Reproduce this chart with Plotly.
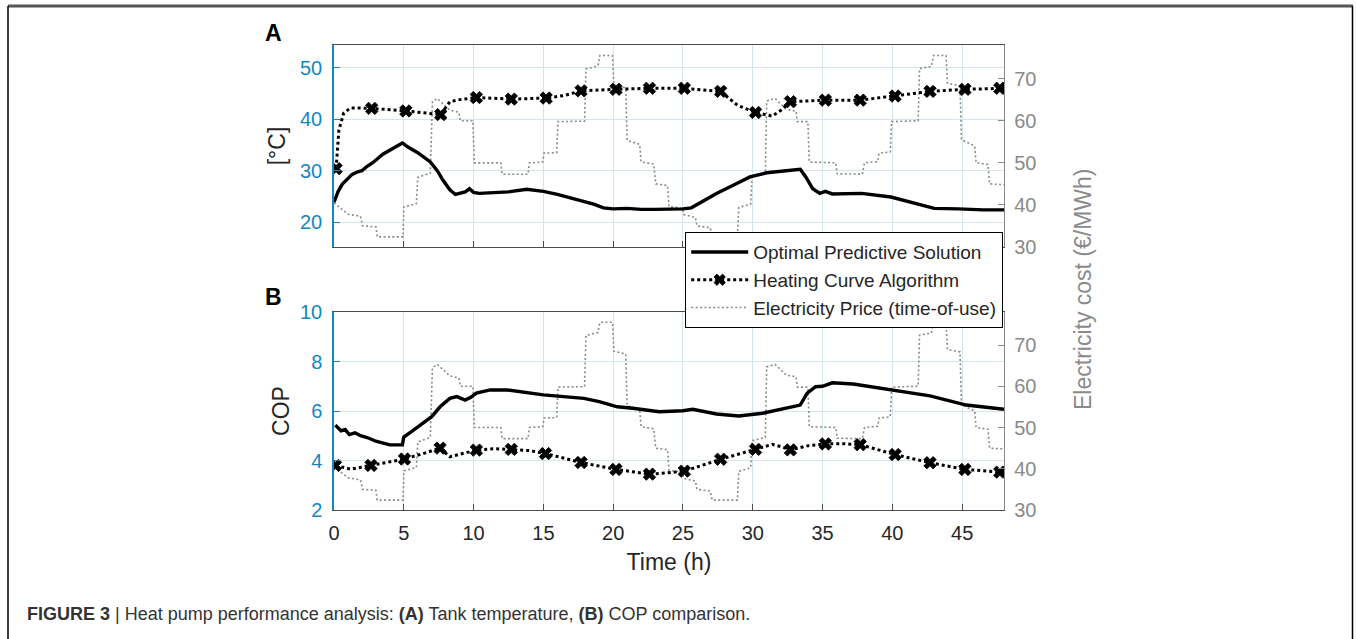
import plotly.graph_objects as go

# ---------------- data ----------------
# Optimal predictive solution - tank temperature (°C)
opt_temp_t = [0, 0.3, 0.6, 0.9, 1.3, 1.7, 2.0, 2.3, 2.8, 3.5, 4.2, 4.9, 5.3, 6.0, 6.9, 7.4, 7.8, 8.3, 8.7,
              9.1, 9.4, 9.7, 10.0, 10.4, 11.5, 12.5, 13.8, 15.0, 16.0, 16.8, 17.8, 18.6, 19.3, 20.0, 21.0,
              22.0, 23.0, 24.0, 25.0, 25.6, 26.2, 27.4, 28.6, 29.8, 31.0, 32.4, 33.4, 33.8, 34.3, 34.8, 35.2,
              35.7, 37.8, 39.9, 41.6, 43.0, 44.7, 46.5, 48.0]
opt_temp_v = [23.9, 26.0, 27.4, 28.3, 29.3, 29.8, 30.0, 30.7, 31.6, 33.2, 34.3, 35.4, 34.6, 33.5, 31.7, 30.0,
              28.2, 26.3, 25.4, 25.6, 25.9, 26.5, 25.8, 25.6, 25.7, 25.9, 26.4, 26.0, 25.4, 24.8, 24.1, 23.5,
              22.8, 22.6, 22.7, 22.5, 22.5, 22.5, 22.6, 22.8, 23.7, 25.6, 27.2, 28.8, 29.6, 30.0, 30.3, 28.8,
              26.5, 25.6, 26.0, 25.5, 25.6, 24.9, 23.7, 22.7, 22.6, 22.4, 22.4]

# Heating curve algorithm - tank temperature (°C); 1 = marker drawn at that point
hc_temp_t = [0.15, 0.35, 0.7, 1.2, 2.7, 5.15, 7.65, 8.3, 9.0, 10.2, 12.7, 15.2, 16.5, 17.7, 20.2, 22.6,
             25.1, 27.7, 28.9, 30.2, 31.4, 32.0, 32.7, 35.2, 37.7, 40.2, 42.7, 45.2, 47.7, 48.0]
hc_temp_v = [30.4, 37.9, 41.2, 42.2, 42.1, 41.6, 40.9, 43.4, 43.8, 44.2, 43.9, 44.1, 44.6, 45.5, 45.8, 46.0,
             46.0, 45.4, 42.7, 41.3, 40.6, 41.7, 43.4, 43.7, 43.7, 44.5, 45.4, 45.8, 46.0, 46.0]
hc_temp_mark = [1, 0, 0, 0, 1, 1, 1, 0, 0, 1, 1, 1, 0, 1, 1, 1,
                1, 1, 0, 1, 0, 0, 1, 1, 1, 1, 1, 1, 1, 0]

# Optimal predictive solution - COP
opt_cop_t = [0.1, 0.5, 0.8, 1.1, 1.5, 1.9, 2.2, 2.5, 3.0, 3.6, 4.0, 4.9, 5.0, 5.5, 6.4, 7.0, 7.6, 8.3, 8.8,
             9.4, 9.8, 10.2, 11.2, 12.4, 15.0, 17.9, 19.0, 20.3, 21.4, 22.6, 23.3, 25.0, 25.7, 27.4, 29.0,
             30.7, 32.4, 33.4, 33.9, 34.5, 35.0, 35.7, 37.2, 40.0, 42.7, 45.3, 48.0]
opt_cop_v = [5.43, 5.2, 5.25, 5.05, 5.12, 5.0, 4.95, 4.9, 4.78, 4.68, 4.63, 4.63, 4.95, 5.15, 5.5, 5.77,
             6.17, 6.51, 6.58, 6.44, 6.55, 6.72, 6.85, 6.85, 6.65, 6.51, 6.38, 6.17, 6.11, 6.01, 5.97, 6.01,
             6.07, 5.88, 5.80, 5.91, 6.11, 6.24, 6.72, 6.98, 7.0, 7.14, 7.09, 6.85, 6.61, 6.24, 6.07]

# Heating curve algorithm - COP
hc_cop_t = [0.1, 1.2, 2.65, 5.05, 6.5, 7.6, 8.3, 9.25, 10.2, 11.5, 12.7, 14.0, 15.15, 17.7, 20.2, 21.5,
            22.6, 23.8, 25.1, 27.7, 30.2, 31.4, 32.1, 32.7, 34.0, 35.2, 36.5, 37.7, 40.2, 42.7, 45.2, 47.7, 48.0]
hc_cop_v = [3.8, 3.65, 3.8, 4.06, 4.3, 4.5, 4.15, 4.29, 4.42, 4.48, 4.45, 4.4, 4.28, 3.92, 3.64, 3.55,
            3.45, 3.5, 3.57, 4.05, 4.45, 4.65, 4.55, 4.43, 4.6, 4.67, 4.68, 4.64, 4.24, 3.91, 3.64, 3.53, 3.52]
hc_cop_mark = [1, 0, 1, 1, 0, 1, 0, 0, 1, 0, 1, 0, 1, 1, 1, 0,
               1, 0, 1, 1, 1, 0, 0, 1, 0, 1, 0, 1, 1, 1, 1, 1, 0]

# Electricity price, time-of-use (€/MWh)
price_t = [0.0, 1.0, 1.9, 2.05, 3.0, 3.1, 4.95, 5.0, 5.9, 6.0, 6.9, 7.05, 7.4, 8.3, 8.95, 9.05, 9.95,
           10.05, 11.95, 12.05, 13.9, 14.0, 14.95, 15.05, 15.95, 16.05, 17.95, 18.05, 18.9, 19.05, 19.95,
           20.05, 20.9, 21.0, 21.9, 22.0, 22.9, 23.05, 23.9, 24.0, 24.95, 25.05, 25.9, 26.0, 26.95, 27.1,
           28.9, 29.0, 29.85, 29.95, 30.9, 31.0, 31.6, 32.4, 33.1, 33.2, 33.95, 34.05, 35.95, 36.05, 37.85,
           38.0, 38.95, 39.05, 39.85, 39.95, 41.85, 41.95, 42.8, 42.95, 43.85, 43.95, 44.85, 44.95, 45.9,
           46.0, 46.85, 46.97, 48.0]
price_v = [40.5, 37.8, 37.3, 35.0, 34.8, 32.4, 32.4, 39.5, 40.3, 46.5, 47.6, 64.5, 65.3, 62.5, 62.0, 60.0,
           60.0, 50.0, 50.0, 47.3, 47.3, 50.0, 50.2, 52.3, 52.4, 59.8, 59.9, 72.3, 73.0, 75.5, 75.5, 68.5,
           67.8, 55.3, 54.4, 50.2, 49.7, 45.0, 44.6, 39.6, 39.2, 37.7, 37.0, 35.0, 34.6, 32.4, 32.4, 39.4,
           40.2, 46.8, 47.6, 64.7, 65.3, 62.7, 62.3, 59.8, 59.8, 50.2, 50.0, 47.4, 47.3, 50.0, 50.3, 52.3,
           52.6, 59.8, 60.0, 72.4, 72.9, 75.5, 75.5, 68.9, 68.3, 55.5, 54.0, 50.0, 49.6, 45.0, 44.8]

x_ticks = [0, 5, 10, 15, 20, 25, 30, 35, 40, 45]
temp_ticks = [20, 30, 40, 50]
cop_ticks = [2, 4, 6, 8, 10]
price_ticks = [30, 40, 50, 60, 70]

legend_names = ["Optimal Predictive Solution", "Heating Curve Algorithm", "Electricity Price (time-of-use)"]

# ---------------- styles ----------------
FONT = "Liberation Sans, Arial, Helvetica, sans-serif"
BLUE = "#1587bf"
GRAY = "#8a8a8a"
GRID = "#d6e4ec"
DARK = "#262626"
AXLINE = "#4d4d4d"

def subset(vals, flags):
    return [v for v, f in zip(vals, flags) if f]

fig = go.Figure()

price_line = dict(color=GRAY, width=1.6, dash="2px,2.4px")
opt_line = dict(color="black", width=3.4)
hc_line = dict(color="black", width=3, dash="3px,3px")
hc_marker = dict(symbol="x", size=11, color="black", line=dict(color="black", width=0.8))

# top panel: price on y (right), temperature on y2 (left, overlaying)
fig.add_trace(go.Scatter(x=price_t, y=price_v, mode="lines", line=price_line,
                         xaxis="x", yaxis="y", name=legend_names[2], legendrank=3, showlegend=True))
fig.add_trace(go.Scatter(x=opt_temp_t, y=opt_temp_v, mode="lines", line=opt_line,
                         xaxis="x", yaxis="y2", name=legend_names[0], legendrank=1, showlegend=True))
fig.add_trace(go.Scatter(x=hc_temp_t, y=hc_temp_v, mode="lines", line=hc_line,
                         xaxis="x", yaxis="y2", showlegend=False))
fig.add_trace(go.Scatter(x=subset(hc_temp_t, hc_temp_mark), y=subset(hc_temp_v, hc_temp_mark),
                         mode="markers", marker=hc_marker, xaxis="x", yaxis="y2", showlegend=False))
# legend entry for heating curve (line + marker)
fig.add_trace(go.Scatter(x=[None], y=[None], mode="lines+markers", line=hc_line,
                         marker=dict(hc_marker, size=10),
                         xaxis="x", yaxis="y2", name=legend_names[1], legendrank=2, showlegend=True))

# bottom panel: price on y3 (right), COP on y4 (left, overlaying)
fig.add_trace(go.Scatter(x=price_t, y=price_v, mode="lines", line=price_line,
                         xaxis="x2", yaxis="y3", showlegend=False))
fig.add_trace(go.Scatter(x=opt_cop_t, y=opt_cop_v, mode="lines", line=opt_line,
                         xaxis="x2", yaxis="y4", showlegend=False))
fig.add_trace(go.Scatter(x=hc_cop_t, y=hc_cop_v, mode="lines", line=hc_line,
                         xaxis="x2", yaxis="y4", showlegend=False))
fig.add_trace(go.Scatter(x=subset(hc_cop_t, hc_cop_mark), y=subset(hc_cop_v, hc_cop_mark),
                         mode="markers", marker=hc_marker, xaxis="x2", yaxis="y4", showlegend=False))

# ---------------- layout ----------------
W, H = 1356, 639
L, R, T, B = 334, 352, 45, 129
ph = H - T - B  # 465
top_dom = [(510 - 247) / ph, 1.0]
bot_dom = [0.0, (510 - 312) / ph]

def xax(anchor, labels, title=None):
    d = dict(anchor=anchor, domain=[0, 1], range=[0, 48], tickvals=x_ticks, ticks="inside", ticklen=6,
             tickcolor=AXLINE, showgrid=True, gridcolor=GRID, gridwidth=1, showline=True, linecolor=AXLINE,
             linewidth=1.3, mirror=True, zeroline=False, showticklabels=labels,
             tickfont=dict(family=FONT, size=20, color=DARK), ticklabelstandoff=5)
    if title:
        d["title"] = dict(text=title, font=dict(family=FONT, size=23, color=DARK), standoff=10)
    return d

def price_ax(anchor, dom):
    return dict(anchor=anchor, domain=dom, side="right", range=[30, 78], tickvals=price_ticks,
                ticks="inside", ticklen=6, tickcolor=GRAY, showgrid=False, showline=True, linecolor=GRAY,
                linewidth=1.3, zeroline=False, tickfont=dict(family=FONT, size=20, color=GRAY),
                ticklabelstandoff=5)

def left_ax(anchor, over, rng, ticks, title, standoff):
    return dict(anchor=anchor, overlaying=over, side="left", range=rng, tickvals=ticks, ticks="inside",
                ticklen=6, tickcolor=BLUE, showgrid=True, gridcolor=GRID, gridwidth=1, showline=True,
                linecolor=BLUE, linewidth=1.5, zeroline=False,
                tickfont=dict(family=FONT, size=20, color=BLUE), ticklabelstandoff=6,
                title=dict(text=title, font=dict(family=FONT, size=23, color=DARK), standoff=standoff))

layout = dict(
    width=W, height=H,
    margin=dict(l=L, r=R, t=T, b=B, autoexpand=False),
    paper_bgcolor="white", plot_bgcolor="white",
    font=dict(family=FONT, color=DARK),
    xaxis=xax("y", False),
    xaxis2=xax("y3", True, "Time (h)"),
    yaxis=price_ax("x", top_dom),
    yaxis2=left_ax("x", "y", [15.2, 54.4], temp_ticks, "[°C]", 8),
    yaxis3=price_ax("x2", bot_dom),
    yaxis4=left_ax("x2", "y3", [2, 10], cop_ticks, "COP", 4),
    legend=dict(x=(1003 - L) / 670, xanchor="right", y=(510 - 232) / ph, yanchor="top",
                bgcolor="white", bordercolor="black", borderwidth=1.2,
                font=dict(family=FONT, size=19, color=DARK), itemwidth=57, tracegroupgap=0),
    showlegend=True,
)
fig.update_layout(**layout)

def px_x(p):
    return (p - L) / 670

def px_y(p):
    return (510 - p) / ph

annotations = [
    dict(text="<b>A</b>", x=px_x(273), y=px_y(33), xref="paper", yref="paper", showarrow=False,
         xanchor="center", yanchor="middle", font=dict(family=FONT, size=23, color="black")),
    dict(text="<b>B</b>", x=px_x(273), y=px_y(297), xref="paper", yref="paper", showarrow=False,
         xanchor="center", yanchor="middle", font=dict(family=FONT, size=23, color="black")),
    dict(text="Electricity cost (€/MWh)", x=px_x(1083), y=px_y(289), xref="paper", yref="paper",
         xanchor="center", yanchor="middle",
         showarrow=False, textangle=-90, font=dict(family=FONT, size=23, color=GRAY)),
    dict(text="<b>FIGURE 3</b> | Heat pump performance analysis: <b>(A)</b> Tank temperature, "
              "<b>(B)</b> COP comparison.",
         x=px_x(25), y=px_y(614), xref="paper", yref="paper", xanchor="left", yanchor="middle",
         showarrow=False, font=dict(family="Liberation Sans Narrow, Arial Narrow, Liberation Sans, Arial",
                                    size=18, color="#333333")),
]
fig.update_layout(annotations=annotations)

shapes = [
    dict(type="line", xref="paper", yref="paper", x0=px_x(8), x1=px_x(1353), y0=px_y(6), y1=px_y(6),
         line=dict(color="#555555", width=3)),
    dict(type="line", xref="paper", yref="paper", x0=px_x(8), x1=px_x(8), y0=px_y(6), y1=px_y(660),
         line=dict(color="black", width=1.5)),
    dict(type="line", xref="paper", yref="paper", x0=px_x(1352.5), x1=px_x(1352.5), y0=px_y(6),
         y1=px_y(660), line=dict(color="black", width=1.5)),
]
fig.update_layout(shapes=shapes)

fig.write_html("out.html")
